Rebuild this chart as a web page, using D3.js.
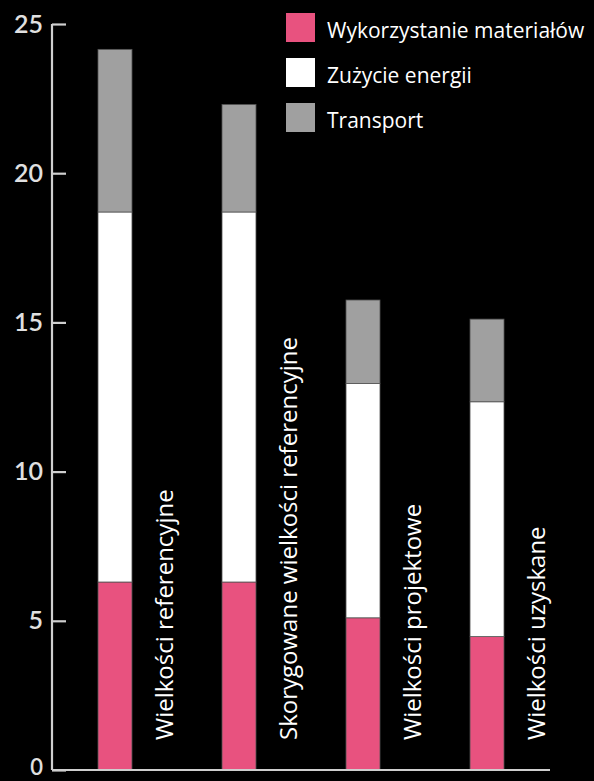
<!DOCTYPE html>
<html>
<head>
<meta charset="utf-8">
<script src="https://cdn.jsdelivr.net/npm/d3@7"></script>
<style>
  html, body { margin: 0; padding: 0; background: #000; }
  svg { display: block; }
</style>
</head>
<body>
<div id="chart"></div>
<script>
/**
 * DATA
 * */
const categories = [
  "Wielkości referencyjne",
  "Skorygowane wielkości referencyjne",
  "Wielkości projektowe",
  "Wielkości uzyskane"
];
const seriesNames = ["Wykorzystanie materiałów", "Zużycie energii", "Transport"];
const materials = [6.3, 6.3, 5.1, 4.47];
const energy = [12.4, 12.4, 7.85, 7.87];
const transport = [5.45, 3.6, 2.8, 2.77];
const yTicks = [0, 5, 10, 15, 20, 25];

const colors = ["#e8527f", "#ffffff", "#a0a0a0"];

/**
 * CONSTANTS
 * */
const width = 594,
  height = 781,
  margin = { top: 24, bottom: 11, left: 52, right: 44 };

const rows = categories.map((c, i) => ({
  name: c,
  m: materials[i],
  e: energy[i],
  t: transport[i]
}));

const stacked = d3.stack().keys(["m", "e", "t"])(rows);

const svg = d3.select("#chart")
  .append("svg")
  .attr("width", width)
  .attr("height", height)
  .style("background", "#000");

const y = d3.scaleLinear()
  .domain([0, 25])
  .range([height - margin.bottom, margin.top]);

// bars start at x=98, 124px apart, 34px wide
const x = d3.scaleBand()
  .domain(categories)
  .range([60.8, 541.2])
  .paddingInner(0.726)
  .paddingOuter(0.3);

// bars
svg.selectAll("g.layer")
  .data(stacked)
  .join("g")
  .attr("class", "layer")
  .attr("fill", (d, i) => colors[i])
  .selectAll("rect")
  .data(d => d)
  .join("rect")
  .attr("x", d => x(d.data.name))
  .attr("width", x.bandwidth())
  .attr("y", d => y(d[1]))
  .attr("height", d => y(d[0]) - y(d[1]))
  .attr("stroke", "#555")
  .attr("stroke-width", 0.8);

// rotated category labels beside bars
svg.selectAll("text.cat")
  .data(categories)
  .join("text")
  .attr("class", "cat")
  .attr("transform", d => `translate(${x(d) + x.bandwidth() / 2 + 58},740) rotate(-90)`)
  .attr("fill", "#fff")
  .attr("font-family", "'Open Sans', sans-serif")
  .attr("font-size", 24)
  .text(d => d);

// y axis
const axis = d3.axisRight(y)
  .tickValues(yTicks)
  .tickSize(14)
  .tickFormat(d3.format("d"));

const gy = svg.append("g")
  .attr("transform", `translate(${margin.left},0)`)
  .call(axis);

gy.select(".domain")
  .attr("d", `M0,${y(25)}V${y(0)}`)
  .attr("stroke", "#cfcfcf")
  .attr("stroke-width", 2.2);
gy.selectAll(".tick line")
  .attr("stroke", "#cfcfcf")
  .attr("stroke-width", 2.2);
gy.selectAll(".tick text")
  .attr("x", -9)
  .attr("dy", d => d === 0 ? "0.2em" : "0.32em")
  .attr("text-anchor", "end")
  .attr("fill", "#e0e0e0")
  .attr("font-family", "Lato, sans-serif")
  .attr("font-weight", 600)
  .attr("font-size", d => d === 0 ? 22 : 25);

// baseline
svg.append("line")
  .attr("x1", margin.left)
  .attr("x2", 550)
  .attr("y1", y(0))
  .attr("y2", y(0))
  .attr("stroke", "#cfcfcf")
  .attr("stroke-width", 2.2);

// legend
const legend = svg.selectAll("g.legend")
  .data(seriesNames)
  .join("g")
  .attr("class", "legend")
  .attr("transform", (d, i) => `translate(286,${13 + i * 45})`);
legend.append("rect")
  .attr("width", 29)
  .attr("height", 29)
  .attr("fill", (d, i) => colors[i]);
legend.append("text")
  .attr("x", 41)
  .attr("y", 25)
  .attr("fill", "#fff")
  .attr("font-family", "'Open Sans', sans-serif")
  .attr("font-size", 21)
  .text(d => d);
</script>
</body>
</html>
